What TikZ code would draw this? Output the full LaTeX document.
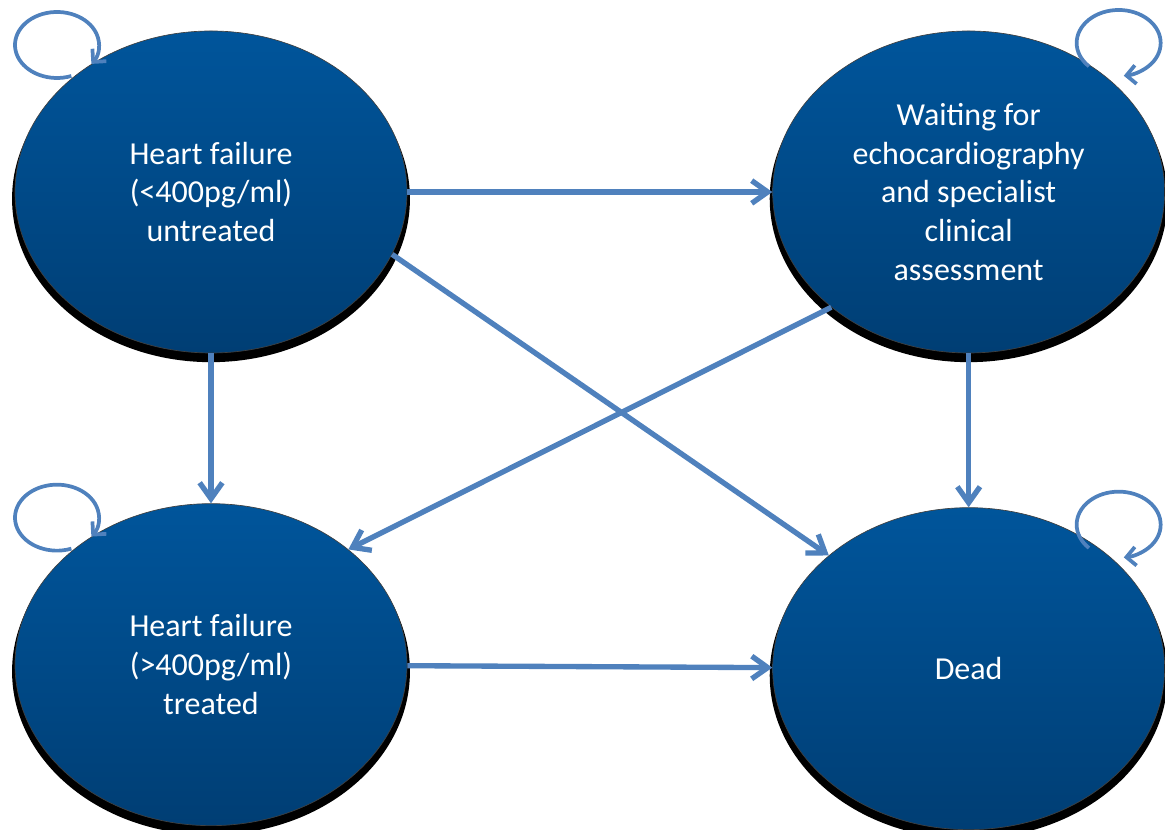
\documentclass[tikz,border=0pt]{standalone}
\usepackage{fontspec}
\setmainfont{Carlito}
\usepackage{xcolor}
\usepackage{tikz}
\usetikzlibrary{arrows.meta,positioning,shapes.geometric,shadows}

\definecolor{stateTop}{RGB}{0,85,155}
\definecolor{stateBot}{RGB}{0,62,116}
\definecolor{linkBlue}{RGB}{79,129,189}

\begin{document}
\begin{tikzpicture}[
  x=0.75pt,y=0.75pt,
  state/.style={ellipse,minimum width=294pt,minimum height=241.5pt,inner sep=0pt,
    align=center,text=white,font=\fontsize{24}{29}\selectfont,
    top color=stateTop,bottom color=stateBot,draw=black!75,line width=.5pt,
    drop shadow={shadow xshift=0pt,shadow yshift=-5pt,shadow scale=1.015,
      opacity=1,fill=black}},
  link/.style={-{Straight Barb[length=12pt,width=17pt]},line width=4pt,draw=linkBlue},
  selfloop/.style={-{Straight Barb[length=7pt,width=14pt]},line width=2.8pt,draw=linkBlue}
]
  \useasboundingbox (0,0) rectangle (1165,830);

  \node[state] (hfu) at (211,638) {Heart failure\\(<400pg/ml)\\untreated};
  \node[state,right=273.75pt of hfu] (wait)
    {Waiting for\\echocardiography\\and specialist\\clinical\\assessment};
  \node[state,below=112.5pt of hfu] (hft) {Heart failure\\(>400pg/ml)\\treated};
  \node[state,below=115.5pt of wait] (dead) {Dead};

  \draw[link] (hfu) -- (wait);
  \draw[link] (hfu) -- (hft);
  \draw[link] (hfu.-19) -- (dead.141);
  \draw[link] (wait.220) -- (hft.40);
  \draw[link] (wait) -- (dead);
  \draw[link] (hft) -- (dead);

  % loops back to the same state
  \draw[selfloop] ([shift={(-154,147)}]hfu.center) ++(290:42 and 33)
    arc[start angle=290,end angle=-35,x radius=42,y radius=33];
  \draw[selfloop] ([shift={(150,149)}]wait.center) ++(225:42 and 33)
    arc[start angle=225,end angle=-83,x radius=42,y radius=33];
  \draw[selfloop] ([shift={(-154,147)}]hft.center) ++(290:42 and 33)
    arc[start angle=290,end angle=-35,x radius=42,y radius=33];
  \draw[selfloop] ([shift={(150,144)}]dead.center) ++(225:42 and 33)
    arc[start angle=225,end angle=-83,x radius=42,y radius=33];
\end{tikzpicture}
\end{document}
